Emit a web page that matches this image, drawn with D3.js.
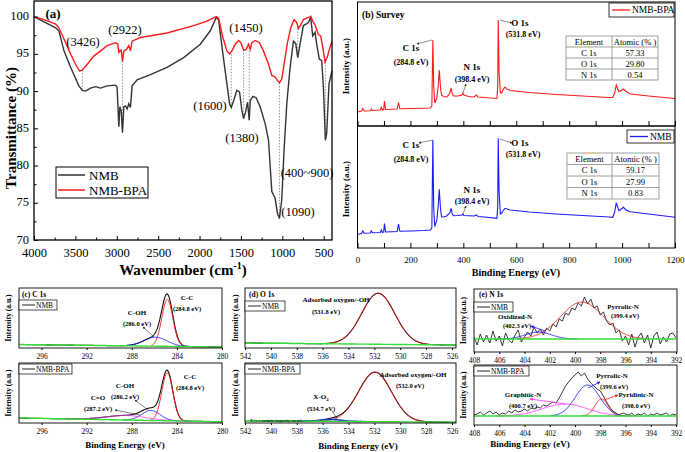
<!DOCTYPE html>
<html><head><meta charset="utf-8">
<script src="https://cdn.jsdelivr.net/npm/d3@7"></script>
<style>body{margin:0;background:#fff;}svg{display:block;}</style>
</head><body>
<script>
// ================= DATA =================
// (a) FTIR: [wavenumber cm-1, transmittance %]
const ftirNMB = [[4000,100],[3739,98.5],[3699,98.1],[3638,95.4],[3558,93.2],[3458,90.7],[3417,90.1],[3377,90.0],[3317,90.4],[3257,90.6],[3196,90.4],[3116,90.7],[3016,90.8],[2996,90.5],[2975,85.2],[2963,87.9],[2947,87.4],[2931,84.4],[2915,87.9],[2895,88.0],[2875,87.6],[2855,88.3],[2835,87.8],[2815,90.7],[2754,91.5],[2594,92.2],[2393,93.2],[2192,94.5],[1991,96.3],[1870,98.1],[1798,99.9],[1770,99.6],[1718,95.0],[1670,91.0],[1637,88.3],[1617,87.8],[1589,88.7],[1549,90.1],[1517,89.9],[1489,87.4],[1468,86.3],[1444,87.2],[1420,88.5],[1400,86.1],[1388,88.7],[1356,89.3],[1316,89.1],[1268,87.9],[1207,85.6],[1167,83.4],[1127,76.5],[1087,75.6],[1059,73.6],[1035,72.9],[1007,75.4],[979,82.1],[946,88.3],[906,93.2],[866,96.7],[838,96.4],[814,94.5],[786,96.3],[746,98.8],[713,99.0],[685,99.2],[657,99.9],[633,97.4],[605,97.9],[585,96.3],[553,94.3],[524,94.1],[504,90.5],[480,83.4],[464,84.3],[436,91.0],[400,92.7]];
const ftirNMBBPA = [[4000,100],[3879,99.6],[3739,99.0],[3699,98.5],[3638,97.0],[3558,95.0],[3498,93.6],[3450,92.7],[3417,92.8],[3357,93.6],[3277,94.7],[3196,95.4],[3116,96.1],[3016,96.5],[2988,96.3],[2975,95.2],[2963,95.4],[2947,95.5],[2931,94.0],[2915,95.4],[2883,95.6],[2855,96.1],[2835,95.4],[2815,96.7],[2714,97.2],[2393,97.8],[2071,98.8],[1910,99.4],[1798,100],[1770,99.8],[1718,97.2],[1670,95.4],[1637,95.0],[1609,95.4],[1569,96.3],[1529,96.8],[1501,96.5],[1468,95.5],[1436,95.6],[1408,96.3],[1388,95.6],[1368,96.5],[1328,96.8],[1276,96.5],[1228,95.4],[1167,93.6],[1127,92.1],[1087,91.9],[1059,91.4],[1035,91.1],[1007,91.6],[979,93.6],[938,96.5],[898,98.5],[858,99.6],[826,99.2],[806,98.4],[778,98.9],[746,99.6],[685,99.9],[657,100],[633,99.4],[605,98.9],[565,97.6],[537,97.4],[512,95.9],[484,93.9],[456,94.6],[432,95.6],[400,96.7]];
// dotted guide lines: [wavenumber, upper %, lower %]
const ftirGuides = [[3417,92.8,90.1],[2931,94.0,84.4],[1617,95.0,87.8],[1468,95.5,86.3],[1400,95.8,86.1],[1035,91.1,72.9],[814,98.4,94.5],[480,93.9,83.4]];
const ftirXTicks = [4000,3500,3000,2500,2000,1500,1000,500];
const ftirYTicks = [70,75,80,85,90,95,100];
const ftirPeakLabels = ['(3426)','(2922)','(1450)','(1600)','(1380)','(400~900)','(1090)'];
const seriesNames = ['NMB','NMB-BPA'];

// (b) survey: [binding energy eV, intensity a.u.]
const surveyNMBBPA = [[0,14],[15,15],[20,17.5],[25,15],[48,15.3],[52,17],[56,15.5],[86,16],[90,18.5],[94,16],[99,16.5],[102,25],[106,16.5],[150,17],[155,23.5],[160,17.2],[200,17.5],[250,17.8],[275,18],[281,20],[284.8,86],[288,40],[292,23],[300,28],[305,40],[309,56],[312,45],[315,35],[318,31],[325,29.5],[337,29],[345,31],[350,34],[354,38],[358,32],[363,30],[380,30],[395,31],[398,33],[402,31],[420,29.5],[440,29],[450,31],[455,29],[480,28.5],[527,27.5],[530,40],[531.8,106],[535,55],[540,33],[545,33],[552,37],[558,39],[565,37],[577,35.5],[650,33.5],[750,31.5],[850,30],[950,28.5],[965,28.5],[972,33],[978,41],[982,38],[988,34.5],[995,35],[1005,37],[1015,34.5],[1031,32],[1100,30],[1200,27.5]];
const surveyNMB = [[0,13.5],[15,14.5],[20,17],[25,14.7],[48,15],[52,17],[56,15.2],[86,15.5],[90,18],[94,15.7],[99,16],[102,24.5],[106,16],[150,16.5],[155,24],[160,16.8],[200,17],[250,17.5],[275,18],[281,20],[284.8,108],[288,40],[292,21.3],[300,28],[305,42],[309,58.7],[312,46],[315,36],[318,31.3],[325,31],[337,32],[345,34],[350,36],[354,39.7],[358,34],[363,32.3],[380,32.5],[395,33],[398,34],[402,32.5],[420,32.3],[440,32],[450,33],[455,31.5],[480,31],[527,29.7],[530,42],[531.8,109.7],[535,57],[540,34],[545,35],[552,38],[558,39.7],[565,39],[577,38],[650,36],[750,34],[850,32.5],[950,31],[965,30.7],[972,36],[978,45.3],[982,42],[988,37.3],[995,38.5],[1005,40.7],[1015,38],[1031,36.3],[1100,34],[1200,30.7]];
const surveyTicks = [0,200,400,600,800,1000,1200];
const atomicHeader = ['Element','Atomic (% )'];
const atomicNMBBPA = [['C 1s','57.33'],['O 1s','29.80'],['N 1s','0.54']];
const atomicNMB = [['C 1s','59.17'],['O 1s','27.99'],['N 1s','0.83']];
const surveyPeakNames = ['C 1s','N 1s','O 1s'];
const surveyPeakBE = ['(284.8 eV)','(398.4 eV)','(531.8 eV)'];

// (c) C 1s fits
const c1sTicks = [296,292,288,284,280];
const c1sNMBFit = [{name:'C-C',center:284.85,fwhm:1.15,height:47},{name:'C-OH',center:285.9,fwhm:2.4,height:9}];
const c1sNMBBackground = [[298,3.5],[280,1.0]];
const c1sBPAFit = [{name:'C-C',center:284.85,fwhm:1.15,height:48},{name:'C-OH',center:286.3,fwhm:1.9,height:10},{name:'C=O',center:288.5,fwhm:4.2,height:4.5}];
const c1sBPABackground = [[298,5.0],[280,1.2]];
// (d) O 1s fits
const o1sTicks = [542,540,538,536,534,532,530,528,526];
const o1sNMBFit = [{name:'Adsorbed oxygen/-OH',center:531.7,fwhm:3.0,height:51}];
const o1sNMBBackground = [[542,5.0],[526,3.0]];
const o1sBPAFit = [{name:'Adsorbed oxygen/-OH',center:531.95,fwhm:3.0,height:49.5},{name:'X-O2',center:535.3,fwhm:1.8,height:1.8}];
const o1sBPABackground = [[542,2.3],[526,0.8]];
// (e) N 1s: measured counts (408 -> 392 eV, 0.25 eV step) and fits
const n1sTicks = [408,406,404,402,400,398,396,394,392];
const n1sNMBCounts = [15,7,18,10,17,9,21,11,16,6,19,12,9,17,22,10,15,20,16,25,19,23,17,24,21,28,25,33,31,39,37,44,42,49,46,55,48,53,44,46,37,40,31,27,29,19,22,11,16,7,18,5,15,19,9,17,4,16,20,8,15,10,18,19,14];
const n1sBPACounts = [10,11,13,10,12,14,11,13,10,12,11,14,12,15,13,14,16,14,17,16,18,17,20,19,21,23,22,27,33,39,43,47,50,53,49,52,46,42,39,36,34,29,23,18,14,12,10,12,11,10,12,9,11,10,12,9,11,10,12,10,11,12,9,11,10];
const n1sNMBFit = [{name:'Pyrrolic-N',center:399.45,fwhm:4.0,height:37},{name:'Oxidized-N',center:402.9,fwhm:2.4,height:7}];
const n1sNMBBackground = [[408,13],[392,13]];
const n1sBPAFit = [{name:'Graphitic-N',center:400.8,fwhm:4.2,height:12},{name:'Pyrrolic-N',center:399.0,fwhm:2.3,height:31},{name:'Pyridinic-N',center:397.9,fwhm:1.2,height:17}];
const n1sBPABackground = [[408,9],[392,9]];

// ================= DRAWING =================
const FONT = "'Liberation Serif','Times New Roman',Times,serif";
const RED = '#ff1a1a', BLUE = '#1a1aff', GREEN = '#33dd33', MAG = '#ff33ff', DARK = '#333333';
const svg = d3.select('body').append('svg').attr('width',685).attr('height',452).style('font-family',FONT);
svg.append('rect').attr('width',685).attr('height',452).attr('fill','#fff');
const defs = svg.append('defs');
function marker(id,color){
  defs.append('marker').attr('id',id).attr('viewBox','0 0 10 10').attr('refX',9).attr('refY',5)
    .attr('markerWidth',4).attr('markerHeight',4).attr('orient','auto')
    .append('path').attr('d','M0,0L10,5L0,10z').attr('fill',color);
}
marker('arK','#222');marker('arB',BLUE);marker('arR',RED);marker('arM',MAG);
function arrow(g,x1,y1,x2,y2,id,color,w){
  g.append('line').attr('x1',x1).attr('y1',y1).attr('x2',x2).attr('y2',y2)
   .attr('stroke',color).attr('stroke-width',w||0.7).attr('marker-end',`url(#${id})`);
}
function text(g,x,y,s,size,opts){
  opts=opts||{};
  const t=g.append('text').attr('x',x).attr('y',y).text(s).attr('font-size',size)
    .attr('text-anchor',opts.anchor||'middle').attr('dominant-baseline','central')
    .attr('font-weight',opts.bold?'bold':'normal').attr('fill',opts.fill||'#000');
  if(opts.rotate) t.attr('transform',`rotate(-90,${x},${y})`);
  return t;
}
function frame(g,x0,y0,x1,y1,w){
  g.append('rect').attr('x',x0).attr('y',y0).attr('width',x1-x0).attr('height',y1-y0)
   .attr('fill','none').attr('stroke','#000').attr('stroke-width',w||1);
}

// ---------- (a) FTIR ----------
(function(){
  const g = svg.append('g');
  const x = d3.scaleLinear().domain([4000,400]).range([34,332]);
  const y = d3.scaleLinear().domain([70,102.1]).range([240,1]);
  g.selectAll('.guide').data(ftirGuides).enter().append('line')
    .attr('x1',d=>x(d[0])).attr('x2',d=>x(d[0])).attr('y1',d=>y(d[1])).attr('y2',d=>y(d[2]))
    .attr('stroke','#777').attr('stroke-width',0.8).attr('stroke-dasharray','1.5,1.5');
  const line = d3.line().x(d=>x(d[0])).y(d=>y(d[1]));
  g.append('path').datum(ftirNMB).attr('d',line).attr('fill','none').attr('stroke',DARK).attr('stroke-width',1.4);
  g.append('path').datum(ftirNMBBPA).attr('d',line).attr('fill','none').attr('stroke',RED).attr('stroke-width',1.4);
  frame(g,34,1,332,240,1.3);
  const xa = g.append('g').attr('transform','translate(0,240)')
    .call(d3.axisBottom(x).tickValues(ftirXTicks).tickSize(-4).tickPadding(8).tickFormat(d3.format('d')));
  xa.select('.domain').remove();
  xa.selectAll('text').attr('font-size',12.5).attr('font-family',FONT);
  const xm = g.append('g').attr('transform','translate(0,240)')
    .call(d3.axisBottom(x).tickValues(d3.range(3750,400,-500)).tickSize(-2.5).tickFormat(''));
  xm.select('.domain').remove();
  const ya = g.append('g').attr('transform','translate(34,0)')
    .call(d3.axisLeft(y).tickValues(ftirYTicks).tickSize(-4).tickPadding(5));
  ya.select('.domain').remove();
  ya.selectAll('text').attr('font-size',12.5).attr('font-family',FONT).attr('dy','0.25em');
  const ym = g.append('g').attr('transform','translate(34,0)')
    .call(d3.axisLeft(y).tickValues(d3.range(72.5,102,5)).tickSize(-2.5).tickFormat(''));
  ym.select('.domain').remove();
  text(g,11,128,'Transmittance (%)',15,{bold:true,rotate:true});
  const xt = g.append('text').attr('x',183).attr('y',275).attr('text-anchor','middle')
    .attr('font-size',15).attr('font-weight','bold');
  xt.append('tspan').text('Wavenumber (cm');
  xt.append('tspan').text('-1').attr('font-size',10).attr('dy',-6);
  xt.append('tspan').text(')').attr('dy',6);
  text(g,53,13,'(a)',13,{bold:true});
  const lp = [[83,42],[125,30],[246,28],[210,106],[242,138],[307,173],[298,212]];
  ftirPeakLabels.forEach((s,i)=>text(g,lp[i][0],lp[i][1],s,12.5));
  // legend
  g.append('rect').attr('x',56).attr('y',167).attr('width',92).attr('height',31).attr('fill','#fff').attr('stroke','#000').attr('stroke-width',1);
  [DARK,RED].forEach((c,i)=>{
    g.append('line').attr('x1',58).attr('x2',85).attr('y1',175+i*15).attr('y2',175+i*15).attr('stroke',c).attr('stroke-width',1.5);
    text(g,89,175+i*15,seriesNames[i],13,{anchor:'start'});
  });
})();

// ---------- (b) Survey ----------
(function(){
  const g = svg.append('g');
  const x = d3.scaleLinear().domain([0,1200]).range([357.5,675]);
  const panels = [
    {data:surveyNMBBPA,y0:2,y1:126,max:124,color:RED,table:atomicNMBBPA,name:seriesNames[1],
     tb:[566,36,658,80],lg:[609,3,674,17],
     lab:{c:[411,48,62],n:[472,67,79],o:[520,23,523,34]}, arr:{c:[432,40,417,44],n:[463,93,466,84],o:[500,20,512,23]}},
    {data:surveyNMB,y0:126,y1:248,max:122,color:BLUE,table:atomicNMB,name:seriesNames[0],
     tb:[567,153,659,199],lg:[627,130,674,143],
     lab:{c:[411,145,159],n:[472,190,201],o:[520,143,523,154]}, arr:{c:[433,140,419,143],n:[463,214,466,206],o:[500,139,512,143]}}
  ];
  panels.forEach((p,pi)=>{
    const y = d3.scaleLinear().domain([0,p.max]).range([p.y1,p.y0]);
    g.append('path').datum(p.data).attr('d',d3.line().x(d=>x(d[0])).y(d=>y(d[1])))
      .attr('fill','none').attr('stroke',p.color).attr('stroke-width',1.1);
    frame(g,357.5,p.y0,675,p.y1,1);
    const ax = g.append('g').attr('transform',`translate(0,${p.y1})`)
      .call(d3.axisBottom(x).tickValues(d3.range(0,1201,100)).tickSize(-5).tickFormat(''));
    ax.select('.domain').remove();
    text(g,346,(p.y0+p.y1)/2+2,'Intensity (a.u.)',9,{bold:true,rotate:true});
    // table
    const [tx0,ty0,tx1,ty1]=p.tb, rh=(ty1-ty0)/4, cx=612;
    const rows=[atomicHeader].concat(p.table);
    g.append('rect').attr('x',tx0).attr('y',ty0).attr('width',tx1-tx0).attr('height',ty1-ty0).attr('fill','#fff').attr('stroke','#888').attr('stroke-width',0.8);
    for(let r=1;r<4;r++) g.append('line').attr('x1',tx0).attr('x2',tx1).attr('y1',ty0+r*rh).attr('y2',ty0+r*rh).attr('stroke','#888').attr('stroke-width',0.8);
    g.append('line').attr('x1',cx).attr('x2',cx).attr('y1',ty0).attr('y2',ty1).attr('stroke','#888').attr('stroke-width',0.8);
    rows.forEach((row,r)=>{
      text(g,(tx0+cx)/2,ty0+rh*(r+0.5),row[0],8.5);
      text(g,(cx+tx1)/2,ty0+rh*(r+0.5),row[1],8.5);
    });
    // legend
    const [lx0,ly0,lx1,ly1]=p.lg;
    g.append('rect').attr('x',lx0).attr('y',ly0).attr('width',lx1-lx0).attr('height',ly1-ly0).attr('fill','#fff').attr('stroke','#000').attr('stroke-width',0.8);
    g.append('line').attr('x1',lx0+3).attr('x2',lx0+21).attr('y1',(ly0+ly1)/2).attr('y2',(ly0+ly1)/2).attr('stroke',p.color).attr('stroke-width',1.3);
    text(g,lx0+23,(ly0+ly1)/2,p.name,9.5,{anchor:'start'});
    // peak labels
    text(g,p.lab.c[0],p.lab.c[1],surveyPeakNames[0],9,{bold:true});
    text(g,p.lab.c[0],p.lab.c[2],surveyPeakBE[0],8,{bold:true});
    text(g,p.lab.n[0],p.lab.n[1],surveyPeakNames[1],9,{bold:true});
    text(g,p.lab.n[0],p.lab.n[2],surveyPeakBE[1],8,{bold:true});
    text(g,p.lab.o[0],p.lab.o[1],surveyPeakNames[2],9,{bold:true});
    text(g,p.lab.o[2],p.lab.o[3],surveyPeakBE[2],8,{bold:true});
    Object.values(p.arr).forEach(a=>arrow(g,a[0],a[1],a[2],a[3],'arK','#444',0.6));
  });
  const ax = g.append('g').attr('transform','translate(0,248)')
    .call(d3.axisBottom(x).tickValues(surveyTicks).tickSize(0).tickPadding(9).tickFormat(d3.format('d')));
  ax.select('.domain').remove();
  ax.selectAll('text').attr('font-size',9).attr('font-family',FONT);
  text(g,516,272,'Binding Energy (eV)',10,{bold:true});
  text(g,362,15,'(b) Survey',9.5,{bold:true,anchor:'start'});
})();

// ---------- XPS high resolution helper ----------
function gauss(c,xv){ return c.height*Math.exp(-4*Math.LN2*(xv-c.center)*(xv-c.center)/(c.fwhm*c.fwhm)); }
function bgAt(bg,xv){ return bg[0][1]+(xv-bg[0][0])*(bg[1][1]-bg[0][1])/(bg[1][0]-bg[0][0]); }
function xpsPlot(g,o){
  const [x0,y0,x1,y1]=o.frame;
  const x = d3.scaleLinear().domain(o.domain).range(o.range);
  const y = d3.scaleLinear().domain([0,y1-y0]).range([y1,y0]);
  const lo=Math.min(...o.full), hi=Math.max(...o.full);
  const grid=d3.range(lo,hi+0.001,0.04);
  const line=d3.line().x(d=>x(d[0])).y(d=>y(d[1]));
  const clipId='clip'+Math.round(x0)+'_'+Math.round(y0);
  defs.append('clipPath').attr('id',clipId).append('rect').attr('x',x0).attr('y',y0).attr('width',x1-x0).attr('height',y1-y0);
  const pg=g.append('g').attr('clip-path',`url(#${clipId})`);
  if(o.counts){
    const pts=o.counts.map((v,i)=>[o.full[0]-i*0.25,v]);
    pg.append('path').datum(pts).attr('d',line).attr('fill','none').attr('stroke','#222').attr('stroke-width',0.9);
  } else {
    const env=grid.map(e=>[e,bgAt(o.bg,e)+d3.sum(o.fit,c=>gauss(c,e))]);
    pg.append('path').datum(env).attr('d',line).attr('fill','none').attr('stroke','#111').attr('stroke-width',1.1);
  }
  o.fit.forEach((c,i)=>{
    const pts=grid.filter(e=>gauss(c,e)>c.height*0.01).map(e=>[e,bgAt(o.bg,e)+gauss(c,e)]);
    pg.append('path').datum(pts).attr('d',line).attr('fill','none').attr('stroke',o.colors[i]).attr('stroke-width',o.widths?o.widths[i]:0.9);
  });
  pg.append('path').datum(grid.map(e=>[e,bgAt(o.bg,e)])).attr('d',line).attr('fill','none').attr('stroke',GREEN).attr('stroke-width',1.4);
  frame(g,x0,y0,x1,y1,0.9);
  const ax=g.append('g').attr('transform',`translate(0,${y1})`)
    .call(d3.axisBottom(x).tickValues(o.ticks).tickSize(2).tickPadding(4));
  ax.select('.domain').remove();
  ax.selectAll('text').attr('font-size',7.5).attr('font-family',FONT);
  text(g,o.ylabX,(y0+y1)/2,'Intensity (a.u.)',7.5,{bold:true,rotate:true});
  // legend
  const lw=o.legendW;
  g.append('rect').attr('x',x0).attr('y',y0+o.legendDy).attr('width',lw).attr('height',10).attr('fill','#fff').attr('stroke','#000').attr('stroke-width',0.7);
  g.append('line').attr('x1',x0+3).attr('x2',x0+16).attr('y1',y0+o.legendDy+5).attr('y2',y0+o.legendDy+5).attr('stroke','#222').attr('stroke-width',1);
  text(g,x0+17,y0+o.legendDy+5,o.legend,7.5,{anchor:'start'});
}

// ---------- (c) C 1s ----------
(function(){
  const g=svg.append('g');
  const base={domain:[298,280],range:[19,222],full:[298,280],ticks:c1sTicks,ylabX:8};
  xpsPlot(g,Object.assign({},base,{frame:[19,288,222,348],fit:c1sNMBFit,bg:c1sNMBBackground,colors:[RED,BLUE],legend:seriesNames[0],legendW:38,legendDy:12}));
  xpsPlot(g,Object.assign({},base,{frame:[19,363,222,423],fit:c1sBPAFit,bg:c1sBPABackground,colors:[RED,BLUE,MAG],legend:seriesNames[1],legendW:53,legendDy:1}));
  text(g,22,294,'(c) C 1s',7.5,{bold:true,anchor:'start'});
  text(g,187,298,c1sNMBFit[0].name,7,{bold:true});
  text(g,187,308,'(284.8 eV)',6.5,{bold:true});
  text(g,137,313,c1sNMBFit[1].name,7,{bold:true});
  text(g,137,323,'(286.0 eV)',6.5,{bold:true});
  arrow(g,154,337,143,327,'arK','#333',0.6);
  text(g,190,377,c1sBPAFit[0].name,7,{bold:true});
  text(g,190,387,'(284.8 eV)',6.5,{bold:true});
  text(g,125,386,c1sBPAFit[1].name,7,{bold:true});
  text(g,125,396,'(286.2 eV)',6.5,{bold:true});
  text(g,98,398,c1sBPAFit[2].name,7,{bold:true});
  text(g,98,408,'(287.2 eV)',6.5,{bold:true});
  arrow(g,148,410,135,400,'arK','#333',0.6);
  arrow(g,140,415,115,410,'arK','#333',0.6);
  text(g,125,445,'Binding Energy (eV)',9,{bold:true});
})();

// ---------- (d) O 1s ----------
(function(){
  const g=svg.append('g');
  const base={domain:[542,526],range:[245,452],full:[542.4,525.6],ticks:o1sTicks,ylabX:235};
  xpsPlot(g,Object.assign({},base,{frame:[245,288,456,348],fit:o1sNMBFit,bg:o1sNMBBackground,colors:[RED],legend:seriesNames[0],legendW:40,legendDy:13}));
  xpsPlot(g,Object.assign({},base,{frame:[245,363,456,423],fit:o1sBPAFit,bg:o1sBPABackground,colors:[RED,'#2233cc'],widths:[0.9,1.6],legend:seriesNames[1],legendW:55,legendDy:1}));
  text(g,249,294,'(d) O 1s',7.5,{bold:true,anchor:'start'});
  text(g,336,300,o1sNMBFit[0].name,7,{bold:true});
  text(g,326,311,'(531.8 eV)',6.5,{bold:true});
  text(g,413,375,o1sBPAFit[0].name,7,{bold:true});
  text(g,410,385,'(532.0 eV)',6.5,{bold:true});
  const xo=g.append('text').attr('x',321).attr('y',399).attr('text-anchor','middle').attr('font-size',7).attr('font-weight','bold');
  xo.append('tspan').text('X-O');xo.append('tspan').text('2').attr('font-size',5).attr('dy',2);
  text(g,321,408,'(534.7 eV)',6.5,{bold:true});
  arrow(g,332,411,337,418,'arK','#333',0.6);
  text(g,250,420,'X is a certain impurity metal.',4.5,{anchor:'start'});
  text(g,358,446,'Binding Energy (eV)',9,{bold:true});
})();

// ---------- (e) N 1s ----------
(function(){
  const g=svg.append('g');
  const base={domain:[408,392],range:[474,676],full:[408,392],ticks:n1sTicks,ylabX:463};
  xpsPlot(g,Object.assign({},base,{frame:[474,289,677,352],fit:n1sNMBFit,bg:n1sNMBBackground,counts:n1sNMBCounts,colors:[RED,BLUE],legend:seriesNames[0],legendW:39,legendDy:13}));
  xpsPlot(g,Object.assign({},base,{frame:[474,365,677,425],fit:n1sBPAFit,bg:n1sBPABackground,counts:n1sBPACounts,colors:[MAG,BLUE,RED],legend:seriesNames[1],legendW:55,legendDy:1}));
  text(g,479,294,'(e) N 1s',7.5,{bold:true,anchor:'start'});
  text(g,515,317,n1sNMBFit[1].name,7,{bold:true});
  text(g,517,325,'(402.3 eV)',6.5,{bold:true});
  arrow(g,545,331,531,326,'arB',BLUE,0.8);
  text(g,623,307,n1sNMBFit[0].name,7,{bold:true});
  text(g,625,315,'(399.4 eV)',6.5,{bold:true});
  text(g,612,376,n1sBPAFit[1].name,7,{bold:true});
  text(g,614,386,'(399.6 eV)',6.5,{bold:true});
  arrow(g,588,388,600,382,'arB',BLUE,0.8);
  text(g,636,395,n1sBPAFit[2].name,7,{bold:true});
  text(g,636,405,'(398.0 eV)',6.5,{bold:true});
  arrow(g,604,400,618,395,'arR',RED,0.8);
  text(g,523,395,n1sBPAFit[0].name,7,{bold:true});
  text(g,523,405,'(400.7 eV)',6.5,{bold:true});
  arrow(g,566,404,530,399,'arM',MAG,0.8);
  text(g,530,444,'Binding Energy (eV)',9,{bold:true});
})();
</script>
</body></html>
